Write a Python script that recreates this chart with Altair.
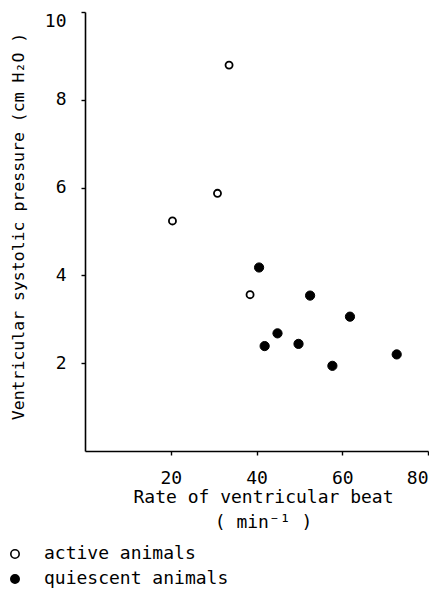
import altair as alt
import pandas as pd

active_rate = [33.6, 30.9, 20.4, 38.5]
active_pressure = [8.79, 5.87, 5.24, 3.56]
quiescent_rate = [40.6, 52.5, 61.8, 44.9, 41.9, 49.8, 57.7, 72.7]
quiescent_pressure = [4.18, 3.54, 3.06, 2.68, 2.39, 2.44, 1.94, 2.20]
groups = ["active animals", "quiescent animals"]
x_ticks = [20, 40, 60, 80]
y_ticks = [2, 4, 6, 8, 10]

df = pd.DataFrame({
    "rate": active_rate + quiescent_rate,
    "pressure": active_pressure + quiescent_pressure,
    "group": [groups[0]] * len(active_rate) + [groups[1]] * len(quiescent_rate),
})

FONT = "DejaVu Sans Mono"

x_enc = alt.X("rate:Q", scale=alt.Scale(domain=[0, 80], nice=False),
              axis=alt.Axis(values=x_ticks, title=["Rate of ventricular beat", "( min⁻¹ )"],
                            titleX=178, titleY=51, titleBaseline="alphabetic",
                            titleLineHeight=25, titleAlign="center", labelFlush=True))
y_enc = alt.Y("pressure:Q", scale=alt.Scale(domain=[0, 10], nice=False),
              axis=alt.Axis(values=y_ticks, title="Ventricular systolic pressure (cm H₂O )",
                            titleX=-67, titleY=214, titleAngle=-90,
                            titleAlign="center", titleBaseline="middle",
                            titleFontSize=16.5, labelFlush=True))
fill_enc = alt.Fill("group:N", scale=alt.Scale(domain=groups, range=["white", "black"]),
                    legend=alt.Legend(title=None, orient="none", legendX=-79, legendY=533,
                                      direction="vertical", symbolType="circle",
                                      symbolSize=70, symbolStrokeColor="black",
                                      symbolStrokeWidth=1.6, labelFontSize=18,
                                      labelFont=FONT, labelColor="black", labelLimit=400,
                                      labelOffset=20, rowPadding=7, padding=0))

base = alt.Chart(df).encode(x=x_enc, y=y_enc, fill=fill_enc)

active_layer = base.transform_filter(alt.datum.group == groups[0]).mark_point(
    shape="circle", stroke="black", strokeWidth=1.8, opacity=1, size=50
)
quiescent_layer = base.transform_filter(alt.datum.group == groups[1]).mark_point(
    shape="circle", stroke="black", strokeWidth=1, opacity=1, size=85
)

chart = alt.layer(active_layer, quiescent_layer).properties(
    width=343, height=439,
    autosize=alt.AutoSizeParams(type="none"),
    padding={"left": 77, "top": 4, "right": 1, "bottom": 138},
    background="white",
).configure_view(stroke=None).configure_axis(
    domainColor="black", domainWidth=1.6, tickColor="black", tickWidth=1.4,
    tickSize=4, grid=False, labelFont=FONT, labelFontSize=18, labelColor="black",
    titleFont=FONT, titleFontSize=18, titleColor="black", titleFontWeight="normal",
).configure_axisX(labelPadding=14).configure_axisY(labelPadding=15)

chart.save("out.html", embed_options={"renderer": "svg", "actions": False})
